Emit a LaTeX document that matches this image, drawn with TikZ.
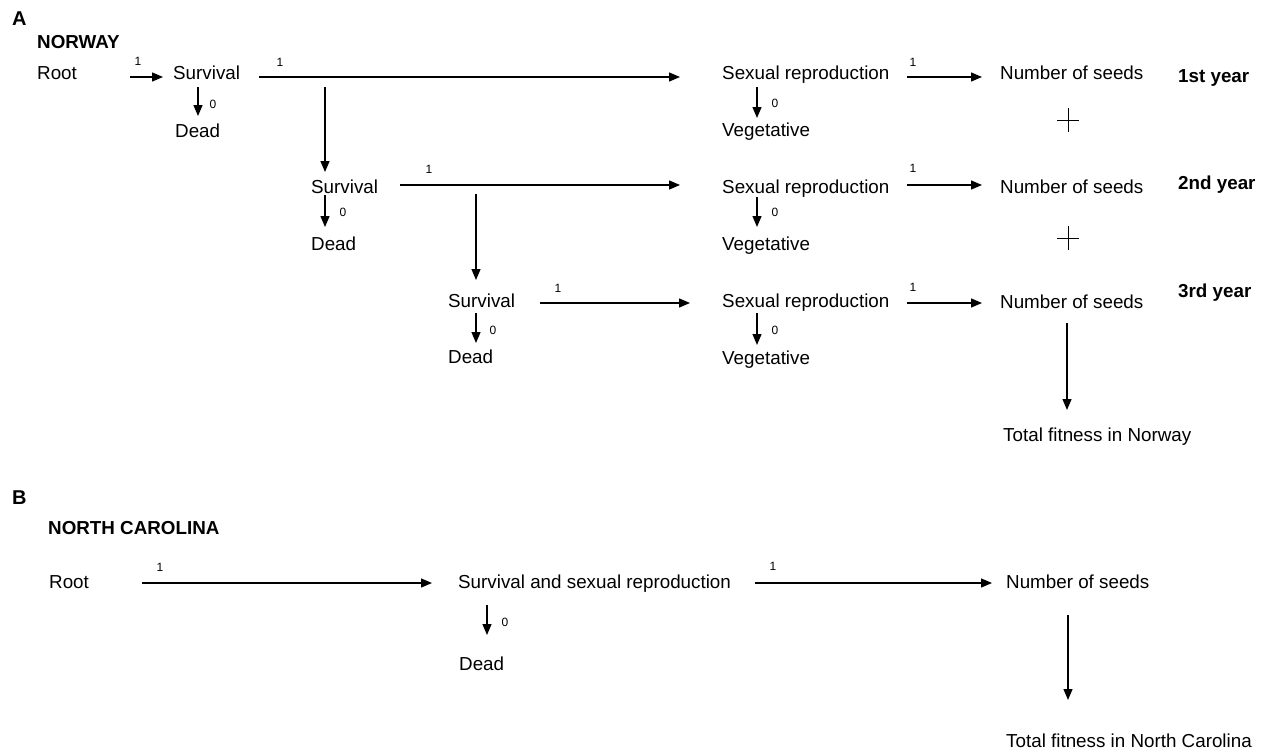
\documentclass[tikz,border=0pt]{standalone}
\usepackage{fontspec}
\setmainfont{Liberation Sans}
\usetikzlibrary{arrows.meta}
\tikzset{
  txt/.style={anchor=base west, inner sep=0pt, font=\fontsize{18.8}{22}\selectfont},
  bld/.style={anchor=base west, inner sep=0pt, font=\fontsize{18.8}{22}\selectfont\bfseries},
  panel/.style={anchor=base west, inner sep=0pt, font=\fontsize{20}{24}\selectfont\bfseries},
  lbl/.style={inner sep=0pt, font=\fontsize{12}{14}\selectfont},
  arr/.style={line width=1.3pt, -{Triangle[length=11pt,width=9pt]}},
  plusline/.style={line width=1pt}
}
\begin{document}
\begin{tikzpicture}[x=1pt,y=-1pt]
\useasboundingbox (0,0) rectangle (1265,750);
% ---------------- Panel A ----------------
\node[panel] (pA) at (12,25) {A};
\node[bld] (norway) at (37,48) {NORWAY};
\node[txt] (root1) at (37,79) {Root};
\node[txt] (surv1) at (173,79) {Survival};
\node[txt] (dead1) at (175,137) {Dead};
\node[txt] (sr1) at (722,79) {Sexual reproduction};
\node[txt] (veg1) at (722,136) {Vegetative};
\node[txt] (ns1) at (1000,79) {Number of seeds};
\node[bld] (y1) at (1178,82) {1st year};
\node[txt] (surv2) at (311,193) {Survival};
\node[txt] (dead2) at (311,250) {Dead};
\node[txt] (sr2) at (722,193) {Sexual reproduction};
\node[txt] (veg2) at (722,250) {Vegetative};
\node[txt] (ns2) at (1000,193) {Number of seeds};
\node[bld] (y2) at (1178,189) {2nd year};
\node[txt] (surv3) at (448,307) {Survival};
\node[txt] (dead3) at (448,363) {Dead};
\node[txt] (sr3) at (722,307) {Sexual reproduction};
\node[txt] (veg3) at (722,364) {Vegetative};
\node[txt] (ns3) at (1000,308) {Number of seeds};
\node[bld] (y3) at (1178,297) {3rd year};
\node[txt] (tot1) at (1003,441) {Total fitness in Norway};
% arrows A
\draw[arr] ([shift={(93,-2)}]root1.base west) -- ([shift={(-10,-2)}]surv1.base west);
\draw[arr] ([shift={(86,-2)}]surv1.base west) -- ([shift={(-42,-2)}]sr1.base west);
\draw[arr] ([shift={(185,-2)}]sr1.base west) -- ([shift={(-18,-2)}]ns1.base west);
\draw[arr] ([shift={(25,8)}]surv1.base west) -- ([shift={(23,-21)}]dead1.base west);
\draw[arr] ([shift={(152,8)}]surv1.base west) -- ([shift={(14,-21)}]surv2.base west);
\draw[arr] ([shift={(89,-8)}]surv2.base west) -- ([shift={(-42,-8)}]sr2.base west);
\draw[arr] ([shift={(185,-8)}]sr2.base west) -- ([shift={(-18,-8)}]ns2.base west);
\draw[arr] ([shift={(14,2)}]surv2.base west) -- ([shift={(14,-23)}]dead2.base west);
\draw[arr] ([shift={(165,1)}]surv2.base west) -- ([shift={(28,-27)}]surv3.base west);
\draw[arr] ([shift={(92,-4)}]surv3.base west) -- ([shift={(-32,-4)}]sr3.base west);
\draw[arr] ([shift={(185,-4)}]sr3.base west) -- ([shift={(-18,-5)}]ns3.base west);
\draw[arr] ([shift={(28,6)}]surv3.base west) -- ([shift={(28,-20)}]dead3.base west);
\draw[arr] ([shift={(35,8)}]sr1.base west) -- ([shift={(35,-18)}]veg1.base west);
\draw[arr] ([shift={(35,4)}]sr2.base west) -- ([shift={(35,-23)}]veg2.base west);
\draw[arr] ([shift={(35,6)}]sr3.base west) -- ([shift={(35,-19)}]veg3.base west);
\draw[arr] ([shift={(67,15)}]ns3.base west) -- ([shift={(64,-31)}]tot1.base west);
% labels A
\node[lbl] (l1a) at (138,61) {1};
\node[lbl] (l1b) at (280,62) {1};
\node[lbl] (l1c) at (913,62) {1};
\node[lbl] (l0a) at (213,104) {0};
\node[lbl] (l0b) at (775,103) {0};
\node[lbl] (l2a) at (429,169) {1};
\node[lbl] (l2b) at (913,168) {1};
\node[lbl] (l0c) at (343,212) {0};
\node[lbl] (l0d) at (775,212) {0};
\node[lbl] (l3a) at (558,288) {1};
\node[lbl] (l3b) at (913,287) {1};
\node[lbl] (l0e) at (493,330) {0};
\node[lbl] (l0f) at (775,330) {0};
% plus signs
\draw[plusline] (1057,120) -- (1079,120) (1068,108) -- (1068,132);
\draw[plusline] (1057,238) -- (1079,238) (1068,226) -- (1068,250);
% ---------------- Panel B ----------------
\node[panel] (pB) at (12,504) {B};
\node[bld] (nc) at (48,534) {NORTH CAROLINA};
\node[txt] (root2) at (49,588) {Root};
\node[txt] (ssr) at (458,588) {Survival and sexual reproduction};
\node[txt] (deadB) at (459,670) {Dead};
\node[txt] (nsB) at (1006,588) {Number of seeds};
\node[txt] (tot2) at (1006,747) {Total fitness in North Carolina};
\draw[arr] ([shift={(93,-5)}]root2.base west) -- ([shift={(-26,-5)}]ssr.base west);
\draw[arr] ([shift={(297,-5)}]ssr.base west) -- ([shift={(-14,-5)}]nsB.base west);
\draw[arr] ([shift={(29,17)}]ssr.base west) -- ([shift={(28,-35)}]deadB.base west);
\draw[arr] ([shift={(62,27)}]nsB.base west) -- ([shift={(62,-47)}]tot2.base west);
\node[lbl] (lB1) at (160,567) {1};
\node[lbl] (lB2) at (773,566) {1};
\node[lbl] (lB0) at (505,622) {0};
\end{tikzpicture}
\end{document}
